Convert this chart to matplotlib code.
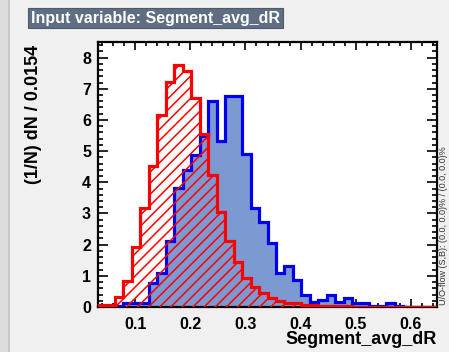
import numpy as np
import matplotlib
matplotlib.use("Agg")
import matplotlib.pyplot as plt
from matplotlib.patches import Rectangle

# binning: 40 bins of width 0.0154
x_min = 0.032
n_bins = 40
bin_w = 0.0154

# signal (blue, filled) and background (red, hatched), normalised (1/N) dN
signal = [0.02, 0.02, 0.03, 0.12, 0.12, 0.12, 0.78, 1.10, 2.13, 3.83,
          4.40, 4.89, 5.48, 6.60, 5.34, 6.76, 6.76, 4.90, 3.18, 2.74,
          2.06, 1.10, 1.30, 0.87, 0.39, 0.17, 0.22, 0.39, 0.17, 0.30,
          0.12, 0.12, 0.04, 0.04, 0.12, 0.03, 0.0, 0.0, 0.0, 0.0]
background = [0.08, 0.08, 0.33, 0.85, 1.94, 3.18, 4.53, 6.15, 7.21, 7.75,
              7.57, 6.71, 5.56, 4.24, 3.06, 2.13, 1.43, 0.92, 0.65, 0.45,
              0.29, 0.19, 0.14, 0.12, 0.07, 0.05, 0.04, 0.03, 0.02, 0.02,
              0.01, 0.01, 0.01, 0.01, 0.0, 0.0, 0.0, 0.0, 0.0, 0.0]

x_ticks = [0.1, 0.2, 0.3, 0.4, 0.5, 0.6]
y_ticks = [0, 1, 2, 3, 4, 5, 6, 7, 8]

edges = x_min + bin_w * np.arange(n_bins + 1)

plt.rcParams['font.family'] = ['Liberation Sans', 'DejaVu Sans']
plt.rcParams['font.weight'] = 'bold'
plt.rcParams['hatch.linewidth'] = 1.1

fig = plt.figure(figsize=(4.49, 3.52), dpi=100, facecolor='#f0f0f0')
# window strip on the left edge
fig.patches.append(Rectangle((0, 0), 8 / 449, 1, transform=fig.transFigure,
                             facecolor='#dcdcdc', edgecolor='none', zorder=0))
fig.patches.append(Rectangle((8 / 449, 0), 1.5 / 449, 1, transform=fig.transFigure,
                             facecolor='#c8c8c8', edgecolor='none', zorder=0))

ax = fig.add_axes([98 / 449, 1 - 307 / 352, 339 / 449, 265 / 352])
ax.set_facecolor('white')

# signal
ax.stairs(signal, edges, fill=True, facecolor='#7d99d1', edgecolor='none', zorder=2)
ax.stairs(signal, edges, color='#0000ee', linewidth=2.3, zorder=3)
# background
ax.stairs(background, edges, fill=True, facecolor='none', edgecolor='#ff0000',
          hatch='///', linewidth=0, zorder=4)
ax.stairs(background, edges, color='#ff0000', linewidth=2.3, zorder=5)

ax.set_xlim(edges[0], edges[-1])
ax.set_ylim(0, 8.5)
ax.set_xticks(x_ticks)
ax.set_yticks(y_ticks)
ax.set_xticks(np.arange(0.04, 0.65, 0.02), minor=True)
ax.set_yticks(np.arange(0, 8.5, 0.2), minor=True)
ax.tick_params(which='both', direction='in', top=True, right=True, width=1.2,
               labelsize=11.5, colors='black')
ax.tick_params(axis='x', which='major', length=6, pad=7)
ax.tick_params(axis='x', which='minor', length=3)
ax.tick_params(axis='y', which='major', length=7.5, pad=5)
ax.tick_params(axis='y', which='minor', length=3.6)
ax.set_xticklabels(['0.1', '0.2', '0.3', '0.4', '0.5', '0.6'])
for s in ax.spines.values():
    s.set_linewidth(1.6)

fig.text(437 / 449, 1 - 340 / 352, 'Segment_avg_dR', ha='right', va='center',
         fontsize=13, fontweight='bold')
fig.text(34 / 449, 1 - 45 / 352, '(1/N) dN / 0.0154', rotation=90, ha='center',
         va='top', fontsize=13, fontweight='bold')
fig.text(443.5 / 449, 1 - 305 / 352, 'U/O-flow (S,B): (0.0, 0.0)% / (0.0, 0.0)%',
         rotation=90, ha='center', va='bottom', fontsize=6.5, fontweight='normal',
         color='#333333')

fig.text(31 / 449, 1 - 18 / 352, 'Input variable: Segment_avg_dR', ha='left',
         va='center', fontsize=11.5, fontweight='bold', color='white',
         bbox=dict(boxstyle='square,pad=0.18', facecolor='#5f6e83',
                   edgecolor='#4d5a6b', linewidth=0.8))

fig.savefig('out.png', dpi=100, facecolor=fig.get_facecolor())
